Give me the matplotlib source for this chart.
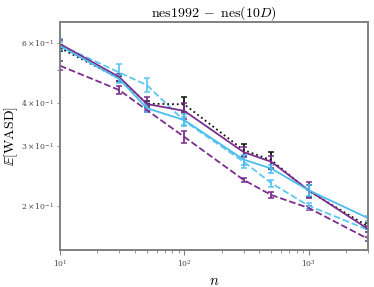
import matplotlib
matplotlib.use("Agg")
import matplotlib.pyplot as plt
import numpy as np

plt.rcParams['mathtext.fontset'] = 'cm'
plt.rcParams['font.family'] = ['DejaVu Serif']

n = [10, 30, 50, 100, 300, 500, 1000, 3000]

black_dotted = [0.579, 0.472, 0.398, 0.396, 0.291, 0.272, 0.221, 0.174]
black_dotted_err = [0.012, 0.009, 0.006, 0.021, 0.012, 0.015, 0.009, 0.0035]

purple_solid = [0.595, 0.476, 0.397, 0.379, 0.287, 0.269, 0.222, 0.171]
purple_solid_err = [0.018, 0.011, 0.019, 0.020, 0.010, 0.011, 0.012, 0.0035]

purple_dashed = [0.514, 0.436, 0.381, 0.318, 0.238, 0.215, 0.197, 0.160]
purple_dashed_err = [0.015, 0.011, 0.006, 0.012, 0.0033, 0.0045, 0.0027, 0.002]

blue_solid = [0.587, 0.470, 0.386, 0.356, 0.273, 0.257, 0.222, 0.184]
blue_solid_err = [0.015, 0.013, 0.010, 0.0145, 0.009, 0.007, 0.008, 0.003]

blue_dashed = [0.591, 0.491, 0.451, 0.354, 0.269, 0.233, 0.200, 0.170]
blue_dashed_err = [0.024, 0.029, 0.021, 0.009, 0.011, 0.0055, 0.004, 0.003]

PURPLE = '#7b2d8e'
BLUE = '#4dbdee'
BLUE_L = '#5cc8f2'

fig = plt.figure(figsize=(3.74, 2.87), dpi=100)
ax = fig.add_axes([0.1604, 0.1289, 0.8236, 0.7944])

kw = dict(capsize=2.5, lw=1.3, elinewidth=1.3, capthick=1.1)
ax.errorbar(n, purple_dashed, yerr=purple_dashed_err, color=PURPLE, ls='--', **kw)
ax.errorbar(n, blue_dashed, yerr=blue_dashed_err, color=BLUE_L, ls='--', **kw)
ax.errorbar(n, black_dotted, yerr=black_dotted_err, color='#111111', ls=':', **kw)
ax.errorbar(n, purple_solid, yerr=purple_solid_err, color=PURPLE, ls='-', **kw)
ax.errorbar(n, blue_solid, yerr=blue_solid_err, color=BLUE, ls='-', **kw)

ax.set_xscale('log')
ax.set_yscale('log')
ax.set_xlim(10, 3000)
ax.set_ylim(0.1484, 0.690)

for s in ax.spines.values():
    s.set_color('#808080')
    s.set_linewidth(1.4)
ax.tick_params(which='both', colors='#808080', labelcolor='#444444', labelsize=5.5)
ax.tick_params(which='major', length=3.5, width=0.8, pad=2.5)
ax.tick_params(which='minor', length=2, width=0.6, pad=2.5)

ax.set_title(r'$\mathrm{nes1992}\;-\;\mathrm{nes}(10D)$', fontsize=10, pad=3)
ax.set_xlabel(r'$n$', fontsize=10.5, labelpad=3)
ax.set_ylabel(r'$\mathbb{E}[\mathrm{WASD}]$', fontsize=10)
ax.yaxis.set_label_coords(-0.13, 0.5)

fig.savefig('out.png', dpi=100)
